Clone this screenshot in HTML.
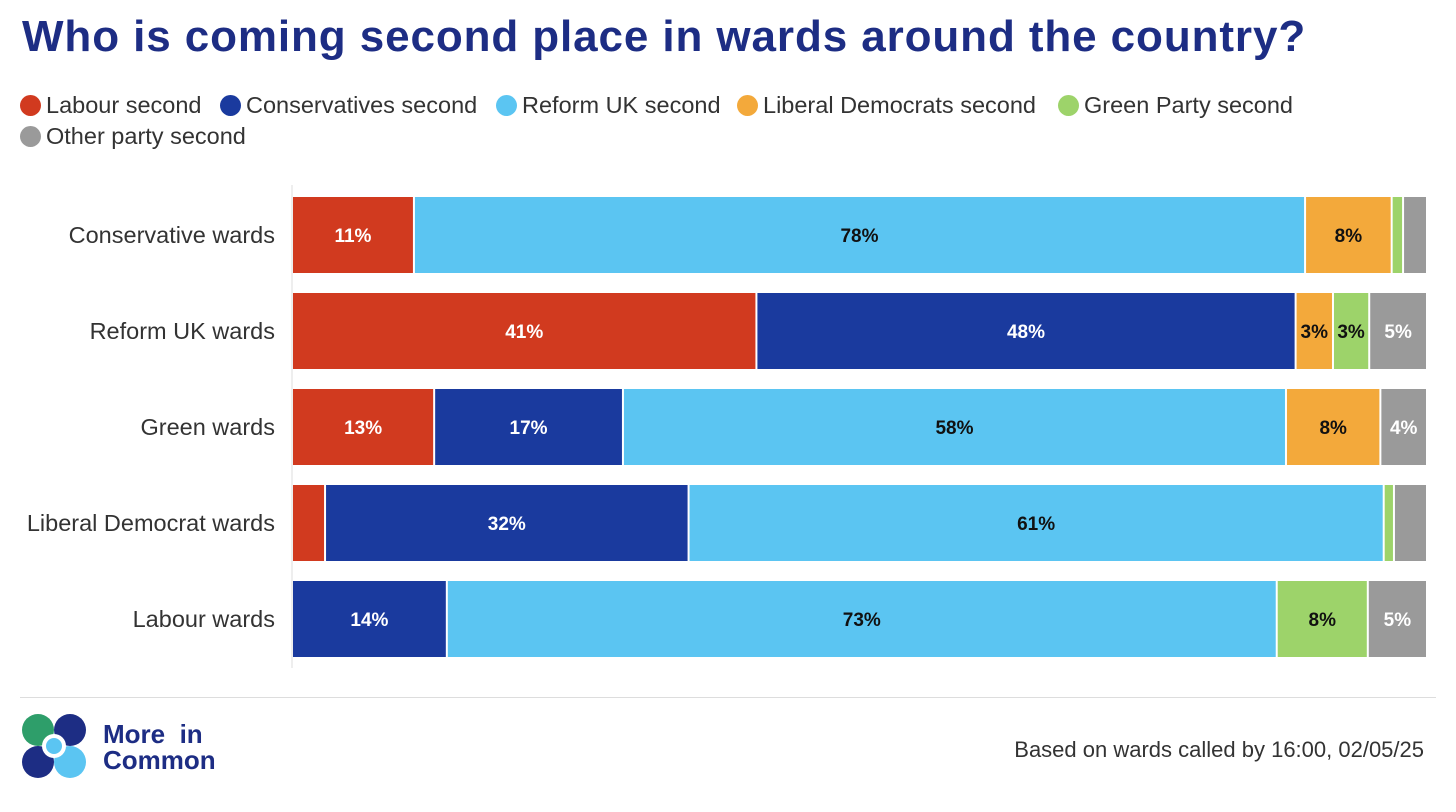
<!DOCTYPE html>
<html><head><meta charset="utf-8">
<style>
body{margin:0;width:1456px;height:812px;background:#fff;font-family:"Liberation Sans",Arial,sans-serif;overflow:hidden;position:relative}
#title{position:absolute;left:22px;top:12px;font-size:44px;font-weight:bold;color:#1d2d84;letter-spacing:0.9px}
.leg{position:absolute;font-size:23.5px;color:#333;display:flex;align-items:center;white-space:nowrap}
.dot{width:21px;height:21px;border-radius:50%;margin-right:5px}
#foot{position:absolute;right:32px;top:737px;font-size:22px;color:#333}
#rule{position:absolute;left:20px;top:697px;width:1416px;height:1px;background:#ddd}
</style></head><body>
<div id="title">Who is coming second place in wards around the country?</div>
<div id="legend"></div>
<svg id="chart" width="1456" height="812" style="position:absolute;left:0;top:0"></svg>
<div id="rule"></div>
<svg style="position:absolute;left:20px;top:712px" width="70" height="70">
<circle cx="18" cy="18" r="16" fill="#2e9e6a"/><circle cx="50" cy="18" r="16" fill="#1d2d84"/>
<circle cx="18" cy="50" r="16" fill="#1d2d84"/><circle cx="50" cy="50" r="16" fill="#5bc5f2"/>
<circle cx="34" cy="34" r="12" fill="#fff"/><circle cx="34" cy="34" r="8" fill="#5bc5f2"/>
</svg>
<div style="position:absolute;left:103px;top:721px;font-size:26px;font-weight:bold;color:#1d2d84;line-height:26px">More&nbsp;&nbsp;in<br>Common</div>
<div id="foot">Based on wards called by 16:00, 02/05/25</div>
<script>
const categories=["Conservative wards","Reform UK wards","Green wards","Liberal Democrat wards","Labour wards"];
const seriesNames=["Labour second","Conservatives second","Reform UK second","Liberal Democrats second","Green Party second","Other party second"];
const labour=[10.7,41,12.5,2.9,0];
const conservative=[0,47.6,16.6,31.9,13.6];
const reform=[78.2,0,58.3,61,72.9];
const libdem=[7.6,3.3,8.3,0,0];
const green=[1,3.2,0,0.9,8];
const other=[2.1,5.1,4.1,2.9,5.2];
const series=[labour,conservative,reform,libdem,green,other];
const colors=["#d13a1f","#1a3a9e","#5bc5f2","#f3a93b","#9dd36a","#9a9a9a"];
const textColors=["#fff","#fff","#111","#111","#111","#fff"];
const X0=293,X1=1428,Y0=197,ROW=96,BH=76;
const NS="http://www.w3.org/2000/svg";
const svg=document.getElementById('chart');
const xScale=(v,t)=>(v/t)*(X1-X0);
function mk(tag,attrs){const e=document.createElementNS(NS,tag);for(const k in attrs)e.setAttribute(k,attrs[k]);return e;}
const ax=mk('line',{x1:X0-1,x2:X0-1,y1:185,y2:668,stroke:'#ddd','stroke-width':1});


svg.appendChild(ax);
categories.forEach((c,i)=>{
  const y=Y0+i*ROW;
  const total=series.reduce((s,a)=>s+a[i],0);
  const lab=mk('text',{x:275,y:y+BH/2+8,'text-anchor':'end','font-size':23.5,fill:'#333'});
  lab.textContent=c;
  
  
  svg.appendChild(lab);
  let acc=0;
  series.forEach((arr,j)=>{
    const v=arr[i];if(!v)return;
    const x=X0+xScale(acc,total),w=xScale(v,total);acc+=v;
    const r=mk('rect',{x:x,y:y,width:Math.max(w-2,0),height:BH,fill:colors[j]});
    
    
    svg.appendChild(r);
    if(v>=3){
      const t=mk('text',{x:x+w/2-1,y:y+BH/2+7,'text-anchor':'middle','font-size':19,'font-weight':'bold',fill:textColors[j]});
      t.textContent=Math.round(v)+'%';
      
      
      svg.appendChild(t);
    }
  });
});
const leg=document.getElementById('legend');
const pos=[[20,92],[220,92],[496,92],[737,92],[1058,92],[20,123]];
seriesNames.forEach((n,j)=>{
  const d=document.createElement('div');d.className='leg';
  d.style.left=pos[j][0]+'px';d.style.top=pos[j][1]+'px';
  
  
  d.innerHTML='<span class="dot" style="background:'+colors[j]+'"></span>'+n;
  leg.appendChild(d);
});
</script>
</body></html>
